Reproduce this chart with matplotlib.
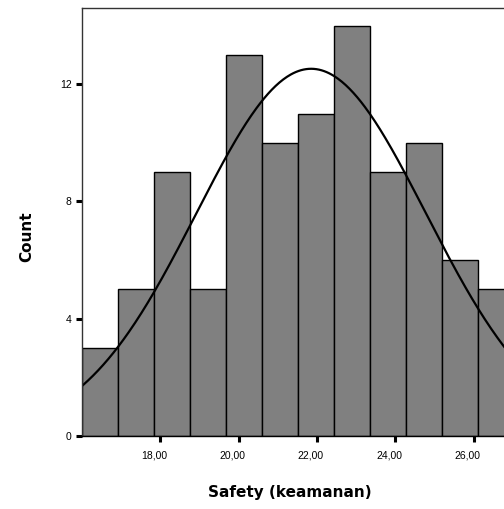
import matplotlib
matplotlib.use("Agg")
import matplotlib.pyplot as plt
import matplotlib.transforms as mtransforms
import numpy as np

# Histogram of "Safety (keamanan)" - counts per bin
bin_start = 16.0
bin_width = 0.92
counts = [3, 5, 9, 5, 13, 10, 11, 14, 9, 10, 6, 5]

# fitted normal curve (SPSS style)
curve_mean = 21.85
curve_sd = 2.93
n_total = sum(counts)

x_ticks = [18, 20, 22, 24, 26]
x_tick_labels = ["18,00", "20,00", "22,00", "24,00", "26,00"]
y_ticks = [0, 4, 8, 12]

plt.rcParams['font.family'] = ['Liberation Sans', 'DejaVu Sans']

fig = plt.figure(figsize=(5.04, 5.09), dpi=100)
# axes run past the right edge of the figure, like the cropped original
ax = fig.add_axes([82 / 504, 73 / 509, 470 / 504, 428 / 509])

edges = bin_start + bin_width * np.arange(len(counts) + 1)
ax.bar(edges[:-1], counts, width=bin_width, align='edge',
       color='#808080', edgecolor='black', linewidth=1.0)

xs = np.linspace(15.5, 28.5, 400)
ys = n_total * bin_width * np.exp(-0.5 * ((xs - curve_mean) / curve_sd) ** 2) / (curve_sd * np.sqrt(2 * np.pi))
ax.plot(xs, ys, color='black', linewidth=1.6)

ax.set_xlim(16, 28)
ax.set_ylim(0, 14.6)

ax.set_xticks(x_ticks)
ax.set_xticklabels(x_tick_labels)
ax.set_yticks(y_ticks)
ax.tick_params(direction='out', length=4.5, width=2.2, labelsize=7.5,
               colors='black')
ax.tick_params(axis='x', pad=6)
ax.tick_params(axis='y', pad=3)

# SPSS puts the x labels a little left of their tick
offset = mtransforms.ScaledTranslation(-6 / 100, 0, fig.dpi_scale_trans)
for lab in ax.get_xticklabels():
    lab.set_transform(lab.get_transform() + offset)

for side in ['top', 'left', 'bottom', 'right']:
    ax.spines[side].set_linewidth(1.0)
    ax.spines[side].set_color('#333333')
ax.spines['bottom'].set_color('black')

title_font = ['DejaVu Sans']
fig.text(290 / 504, 1 - 493 / 509, "Safety (keamanan)", ha='center', va='center',
         fontsize=11, fontweight='bold', family=title_font)
fig.text(27 / 504, 1 - 237 / 509, "Count", ha='center', va='center',
         rotation=90, fontsize=11, fontweight='bold', family=title_font)

fig.savefig("out.png", dpi=100)
